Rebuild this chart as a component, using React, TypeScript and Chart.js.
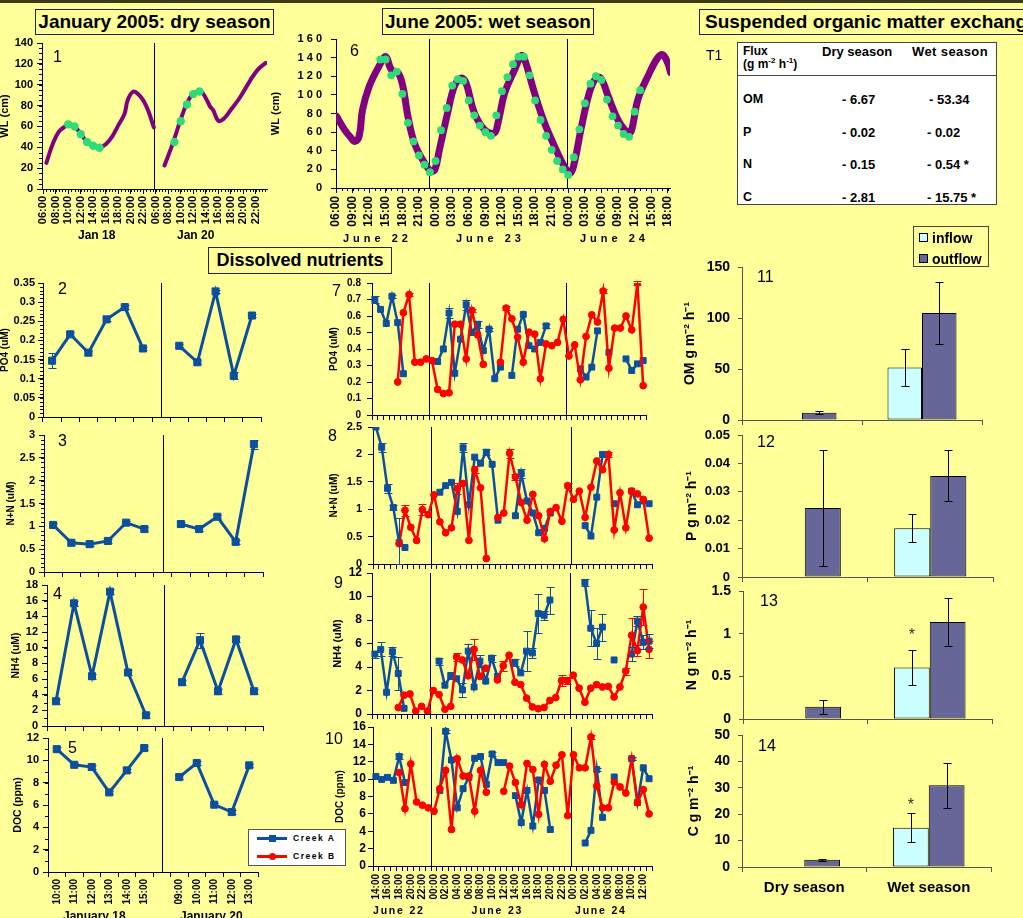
import React, { useEffect, useRef } from 'react';
import { Chart, registerables } from 'chart.js';

Chart.register(...registerables);

const FONT = '"Liberation Sans", Arial, Helvetica, sans-serif';
Chart.defaults.font.family = FONT;
Chart.defaults.color = '#000';

const _ = null;
const BG = '#FFFF99';
const BLUE = '#0B4F9E';
const RED = '#FF0000';
const PURPLE = '#800080';
const GREEN = '#2EDB78';
const INFLOW = '#CCFFFF';
const OUTFLOW = '#666699';

// ---------------- Panel 1: water level, January 2005 (hours of day) ----------------
const wlJan18Time = [6.5, 7.5, 8.5, 9.5, 10, 10.5, 11, 12, 13, 14, 15, 16, 17, 18, 19, 19.5, 20.3, 21, 22, 22.8, 23.7];
const wlJan18 = [25, 43, 55, 60, 62, 61, 60, 53, 45, 41.5, 39.5, 43, 50, 61, 72, 85, 93, 92, 85, 75, 59];
const wlJan20Time = [7.4, 8, 8.8, 9.9, 10.9, 11.9, 13, 13.5, 14.2, 14.7, 15.2, 16, 16.8, 17.9, 19.5, 21.1, 22.4, 23.6];
const wlJan20 = [22.5, 32, 45, 65, 81, 91, 93.5, 92, 85, 79, 75.5, 65.5, 67, 75, 88, 104, 115, 121];
const sampleJan18Time = [10, 11, 12, 13, 14, 15];
const sampleJan18 = [62, 60, 52.5, 45, 41.5, 39.5];
const sampleJan20Time = [9, 10, 11, 12, 13];
const sampleJan20 = [45, 65, 81, 91, 93.5];
const dryWLTickValues = [0, 2, 4, 6, 8, 10, 12, 14, 16, 18, 20, 22, 24, 26, 28, 30, 32, 34];
const dryWLTickLabels = ['06:00', '08:00', '10:00', '12:00', '14:00', '16:00', '18:00', '20:00', '22:00',
  '06:00', '08:00', '10:00', '12:00', '14:00', '16:00', '18:00', '20:00', '22:00'];

// ---------------- Panel 6: water level, June 2005 (hours after June 22 06:00) ----------------
const wlJuneTime = [0.1, 1.5, 2.7, 3.4, 4.2, 4.8, 6.0, 7.8, 9.0, 10.0, 11.2, 12.1, 13.0, 14.2, 16.0, 17.2, 17.9,
  18.7, 20.2, 21.4, 22.6, 23.5, 25.0, 26.8, 28.6, 29.3, 30.5, 32.3, 33.5, 34.0, 35.9, 37.7, 39.5, 41.3, 42.4,
  43.1, 44.3, 45.8, 47.0, 47.9, 49.2, 51.0, 52.8, 53.4, 54.6, 56.4, 58.2, 59.1, 60.0, 60.5];
const wlJune = [77, 63, 54, 50, 56, 84, 109, 131, 141, 127, 124, 109, 77, 48, 27, 18, 20, 41, 81, 109, 118,
  113, 81, 63, 59, 70, 102, 127, 142, 140, 102, 70, 45, 23, 16, 27, 63, 102, 118, 118, 99, 73, 59, 61, 95,
  120, 140, 143, 134, 124];
const sampleJuneTime = [8, 9, 10, 11, 12, 13, 14, 15, 16, 17, 18, 19, 20, 21, 22, 23, 24, 25, 26, 27, 28, 29,
  30, 31, 32, 33, 34, 35, 36, 37, 38, 39, 40, 41, 42, 43, 44, 45, 46, 47, 48, 49, 50, 51, 52, 53, 54, 55];
const sampleJune = [138, 138, 121, 125, 101, 70, 50, 35, 25, 17, 29, 62, 86, 110, 117, 115, 94, 78, 67, 60,
  56, 78, 104, 119, 133, 141, 141, 121, 94, 73, 56, 41, 29, 20, 14, 33, 63, 91, 112, 120, 116, 95, 77, 67,
  58, 55, 82, 105];
const wetWLTickValues = [0, 3, 6, 9, 12, 15, 18, 21, 24, 27, 30, 33, 36, 39, 42, 45, 48, 51, 54, 57, 60];
const wetWLTickLabels = ['06:00', '09:00', '12:00', '15:00', '18:00', '21:00', '00:00', '03:00', '06:00',
  '09:00', '12:00', '15:00', '18:00', '21:00', '00:00', '03:00', '06:00', '09:00', '12:00', '15:00', '18:00'];

// ---------------- Panels 2-5: dissolved nutrients, dry season (Creek A) ----------------
const dryTimes = ['10:00', '11:00', '12:00', '13:00', '14:00', '15:00', '', '09:00', '10:00', '11:00', '12:00', '13:00'];
const dryPO4 = [0.147, 0.216, 0.168, 0.255, 0.287, 0.179, _, 0.186, 0.143, 0.328, 0.108, 0.265];
const dryPO4Err = [0.02, 0.005, 0.005, 0.005, 0.005, 0.005, _, 0.004, 0.005, 0.005, 0.01, 0.005];
const dryNN = [1.03, 0.64, 0.61, 0.68, 1.08, 0.94, _, 1.05, 0.94, 1.21, 0.66, 2.80];
const dryNNErr = [0.04, 0.04, 0.04, 0.04, 0.04, 0.04, _, 0.04, 0.04, 0.04, 0.04, 0.1];
const dryNH4 = [3.16, 15.66, 6.36, 17.15, 6.83, 1.37, _, 5.59, 10.96, 4.44, 11.05, 4.44];
const dryNH4Err = [0.3, 0.3, 0.3, 0.3, 0.3, 0.3, _, 0.3, 0.95, 0.3, 0.3, 0.3];
const dryDOC = [11.0, 9.6, 9.4, 7.13, 9.1, 11.1, _, 8.5, 9.76, 6.03, 5.37, 9.55];
const dryDOCErr = [0.15, 0.15, 0.15, 0.15, 0.15, 0.15, _, 0.15, 0.15, 0.15, 0.15, 0.15];

// ---------------- Panels 7-10: dissolved nutrients, wet season ----------------
const wetHours = ['14:00', '15:00', '16:00', '17:00', '18:00', '19:00', '20:00', '21:00', '22:00', '23:00',
  '00:00', '01:00', '02:00', '03:00', '04:00', '05:00', '06:00', '07:00', '08:00', '09:00', '10:00', '11:00',
  '12:00', '13:00', '14:00', '15:00', '16:00', '17:00', '18:00', '19:00', '20:00', '21:00', '22:00', '23:00',
  '00:00', '01:00', '02:00', '03:00', '04:00', '05:00', '06:00', '07:00', '08:00', '09:00', '10:00', '11:00',
  '12:00', '13:00'];
const wetPO4A = [0.70, 0.64, 0.555, 0.72, 0.56, 0.25, _, _, _, _, _, 0.324, 0.40, 0.618, 0.253, 0.46, 0.668,
  0.50, 0.55, 0.39, 0.52, 0.22, 0.29, _, 0.24, 0.52, 0.61, 0.42, 0.40, 0.44, 0.54, _, _, _, _, _, 0.28, 0.23,
  0.29, 0.51, _, 0.38, _, _, 0.34, 0.27, 0.31, 0.33];
const wetPO4B = [_, _, _, _, 0.20, 0.62, 0.73, 0.32, 0.32, 0.34, 0.33, 0.155, 0.13, 0.135, 0.55, 0.55, 0.34,
  0.634, 0.486, 0.307, _, _, 0.32, 0.648, 0.583, 0.472, 0.32, 0.502, 0.49, 0.219, 0.431, 0.42, 0.44, 0.58,
  0.358, 0.425, 0.213, 0.476, 0.607, 0.563, 0.751, 0.284, 0.527, 0.527, 0.60, 0.516, 0.80, 0.178];
const wetNNA = [2.5, 2.13, 1.38, 1.03, 0.39, 0.30, _, _, _, _, _, 1.31, 1.43, 1.49, 0.96, 2.12, 1.08, 1.95,
  1.84, 2.04, 1.82, 0.80, _, _, 0.88, 1.65, 1.15, 0.93, 0.57, 0.65, 0.93, _, _, _, _, _, 0.70, 0.51, 1.22,
  2.0, _, 1.1, _, _, 1.33, 1.08, 1.15, 1.1];
const wetNNB = [_, _, _, _, 0.37, 0.98, 0.67, 0.43, 0.99, 0.90, 1.26, 0.77, 0.57, 0.66, 1.38, 1.47, 0.43,
  1.72, 1.39, 0.10, _, 0.85, 0.93, 2.02, 1.59, 1.12, 0.80, 1.27, 0.88, 0.46, 0.96, 1.03, 0.78, 1.43, 1.18,
  1.33, 0.85, 1.40, 1.88, 1.72, 2.0, 0.62, 1.30, 0.66, 1.33, 1.28, 1.18, 0.47];
const wetNH4A = [5.1, 5.5, 1.85, 5.3, 3.45, 0.48, _, _, _, _, _, 4.5, 2.45, 3.25, 3.0, 2.05, 5.35, 2.3, 4.5,
  2.8, 4.75, 3.2, _, _, 4.4, 3.5, 5.35, 5.2, 8.55, 8.4, 9.7, _, _, _, _, _, 11.2, 7.3, 6.0, 7.4, _, 4.6, _, _,
  5.1, 7.9, 6.1, 6.2];
const wetNH4B = [_, _, _, _, 0.55, 1.6, 1.7, 0.25, 0.65, 0.25, 2.0, 1.65, 0.4, 0.65, 4.85, 4.6, 3.25, 5.5,
  3.2, 3.9, _, 2.9, 4.1, 5.0, 2.7, 2.5, 1.35, 0.6, 0.45, 0.55, 1.15, 1.4, 2.85, 2.85, 3.3, 2.2, 1.0, 2.2, 2.5,
  2.3, 2.35, 1.45, 2.3, 3.65, 6.7, 5.4, 9.1, 5.5];
const wetDOCA = [10.3, 9.97, 10.2, 9.86, 12.6, 9.6, _, _, _, _, _, 8.7, 15.5, 12.2, 6.7, 8.9, 10.2, 12.4, 12.6,
  9.4, 12.9, 11.9, 11.9, _, 8.1, 5.0, 8.7, 4.6, 9.9, 8.7, 4.2, _, _, _, _, _, 2.65, 4.1, 11.1, 5.6, _, 10.25,
  _, _, 12.35, 7.3, 11.3, 10.05];
const wetDOCB = [_, _, _, _, 10.75, 6.6, 11.75, 7.37, 7.0, 6.7, 6.3, 8.9, 11.0, 4.2, 12.35, 10.36, 10.36, 6.3,
  11.0, 8.5, _, _, 8.6, 11.5, 9.6, 7.06, 11.8, 11.1, 5.95, 11.7, 9.75, 11.6, 12.8, 5.8, 12.8, 11.3, 11.3,
  14.85, 9.2, 6.7, 6.7, 9.67, 9.1, 8.4, 12.35, 7.3, 8.8, 6.0];
// error bars as [index, error] pairs
const wetPO4AErr = [[0, 0.02], [3, 0.01], [13, 0.03], [16, 0.03], [18, 0.02], [20, 0.01], [30, 0.01]];
const wetPO4BErr = [[6, 0.01], [17, 0.01], [23, 0.01], [40, 0.01], [46, 0.01]];
const wetNNAErr = [[1, 0.08], [2, 0.08], [3, 0.05], [4, 0.45], [15, 0.08], [19, 0.05], [25, 0.08], [39, 0.05]];
const wetNNBErr = [[5, 0.1], [8, 0.1], [14, 0.1], [17, 0.06], [23, 0.08], [24, 0.05], [33, 0.05], [40, 0.05]];
const wetNH4AErr = [[0, 0.3], [1, 0.6], [3, 0.4], [4, 1.4], [11, 0.3], [13, 0.3], [15, 0.6], [16, 0.6],
  [18, 0.5], [20, 0.3], [24, 0.3], [26, 1.7], [27, 0.4], [28, 1.65], [29, 0.4], [30, 1.15], [36, 0.3],
  [37, 1.55], [38, 1.3], [39, 1.15], [44, 0.6], [45, 0.4], [46, 0.6], [47, 0.6]];
const wetNH4BErr = [[14, 0.3], [17, 0.9], [22, 0.4], [32, 0.5], [33, 0.3], [43, 0.3], [44, 1.5], [45, 0.5],
  [46, 1.5], [47, 0.7]];
const wetDOCAErr = [[4, 0.3], [12, 0.2], [20, 0.2], [38, 0.2], [44, 0.2]];
const wetDOCBErr = [[37, 0.2], [44, 0.2]];

// ---------------- Panels 11-14: suspended organic matter fluxes ----------------
const seasons = ['Dry season', 'Wet season'];
const omIn = [0, 51.5];
const omOut = [7, 105];
const omInErr = [0, 17.7];
const omOutErr = [1.5, 30.5];
const pIn = [0, 0.0172];
const pOut = [0.0243, 0.0356];
const pInErr = [0, 0.005];
const pOutErr = [0.0205, 0.009];
const nIn = [0, 0.604];
const nOut = [0.143, 1.137];
const nInErr = [0, 0.21];
const nOutErr = [0.085, 0.285];
const cIn = [0, 14.9];
const cOut = [2.7, 31.0];
const cInErr = [0, 5.5];
const cOutErr = [0.4, 8.5];

// ---------------- plugins ----------------
const dividerPlugin = {
  id: 'dividers',
  beforeDatasetsDraw(chart: any, _a: any, o: any) {
    if (!o || !o.values) return;
    const { ctx, chartArea } = chart;
    const xs = chart.scales.x;
    ctx.save();
    ctx.strokeStyle = o.color || '#000';
    ctx.lineWidth = o.width || 1;
    for (const v of o.values) {
      const px = Math.round(xs.getPixelForValue(v)) + 0.5;
      ctx.beginPath();
      ctx.moveTo(px, chartArea.top);
      ctx.lineTo(px, chartArea.bottom + (o.extend || 0));
      ctx.stroke();
    }
    ctx.restore();
  },
};

const errorBarPlugin = {
  id: 'errorBars',
  afterDatasetsDraw(chart: any) {
    const { ctx } = chart;
    const ys = chart.scales.y;
    chart.data.datasets.forEach((ds: any, di: number) => {
      const errs = ds.errors;
      if (!errs) return;
      const meta = chart.getDatasetMeta(di);
      ctx.save();
      ctx.strokeStyle = ds.errorColor || ds.borderColor;
      ctx.lineWidth = ds.errorWidth || 1;
      meta.data.forEach((el: any, i: number) => {
        const e = errs[i];
        const raw = ds.data[i];
        if (e == null || raw == null || !e) return;
        const val = typeof raw === 'object' ? raw.y : raw;
        const x = Math.round(el.x) + 0.5;
        const y1 = Math.round(ys.getPixelForValue(val + e)) + 0.5;
        const y2 = Math.round(ys.getPixelForValue(Math.max(val - e, ys.min))) + 0.5;
        const cw = ds.capWidth || 4;
        ctx.beginPath();
        ctx.moveTo(x, y1); ctx.lineTo(x, y2);
        ctx.moveTo(x - cw, y1); ctx.lineTo(x + cw, y1);
        ctx.moveTo(x - cw, y2); ctx.lineTo(x + cw, y2);
        ctx.stroke();
      });
      ctx.restore();
    });
  },
};

const minorTicksPlugin = {
  id: 'minorTicks',
  afterDraw(chart: any, _a: any, o: any) {
    if (!o) return;
    const { ctx, chartArea: ca } = chart;
    const len = o.len || 3;
    ctx.save();
    ctx.strokeStyle = '#000';
    ctx.lineWidth = 1;
    if (o.yStep) {
      const s = chart.scales.y;
      const n = Math.round((s.max - s.min) / o.yStep);
      for (let k = 0; k <= n; k++) {
        const py = Math.round(s.getPixelForValue(s.min + k * o.yStep)) + 0.5;
        ctx.beginPath(); ctx.moveTo(ca.left - len, py); ctx.lineTo(ca.left, py); ctx.stroke();
      }
    }
    if (o.xStep) {
      const s = chart.scales.x;
      const from = o.xFrom != null ? o.xFrom : s.min;
      const n = Math.floor((s.max - from) / o.xStep + 1e-6);
      for (let k = 0; k <= n; k++) {
        const px = Math.round(s.getPixelForValue(from + k * o.xStep)) + 0.5;
        ctx.beginPath(); ctx.moveTo(px, ca.bottom); ctx.lineTo(px, ca.bottom + len); ctx.stroke();
      }
    }
    ctx.restore();
  },
};

const starPlugin = {
  id: 'stars',
  afterDatasetsDraw(chart: any, _a: any, o: any) {
    if (!o || !o.items) return;
    const { ctx } = chart;
    ctx.save();
    ctx.fillStyle = '#333';
    ctx.font = `16px ${FONT}`;
    ctx.textAlign = 'center';
    ctx.textBaseline = 'middle';
    for (const it of o.items) {
      const ds = chart.data.datasets[it.ds];
      const el = chart.getDatasetMeta(it.ds).data[it.i];
      const top = ds.data[it.i] + ((ds.errors && ds.errors[it.i]) || 0);
      const py = chart.scales.y.getPixelForValue(top) - it.dy;
      ctx.fillText('*', el.x, py);
    }
    ctx.restore();
  },
};

Chart.register(dividerPlugin, errorBarPlugin, minorTicksPlugin, starPlugin);

// ---------------- layout helpers ----------------
type Geo = { left: number; top: number; width: number; height: number; wy: number; pt: number; pr: number; hx: number };

function frame(rect: number[], wy: number, hx: number, pt = 8, pr = 10): Geo {
  const l = Math.round(rect[0]);
  const t = Math.round(rect[1]);
  const r = Math.round(rect[2]);
  const b = Math.round(rect[3]);
  const left = Math.round(rect[0] - wy);
  const top = Math.round(rect[1] - pt);
  return { left, top, width: r - left + pr, height: b - top + hx, wy: l - left, pt: t - top, pr, hx };
}

const fmt = (v: any) => String(parseFloat(Number(v).toFixed(4)));
const spaced = (v: any) => String(v).split('').join(' ');

function base(g: Geo, plugins: any = {}) {
  return {
    responsive: false,
    maintainAspectRatio: false,
    animation: false,
    devicePixelRatio: 1,
    events: [],
    layout: { padding: { top: g.pt, right: g.pr, left: 0, bottom: 0 } },
    plugins: { legend: { display: false }, tooltip: { enabled: false }, ...plugins },
  };
}

function yAxis(g: Geo, o: any) {
  const col = o.color || '#000';
  return {
    type: 'linear',
    position: 'left',
    min: o.min,
    max: o.max,
    afterFit: (s: any) => { s.width = g.wy; s.paddingTop = 0; s.paddingBottom = 0; },
    border: { display: true, color: col, width: 1 },
    grid: { display: true, drawOnChartArea: false, drawTicks: true, tickLength: o.tickLen || 4, color: col, lineWidth: 1 },
    ticks: {
      stepSize: o.step, autoSkip: false, maxTicksLimit: 100, color: '#000', padding: o.pad != null ? o.pad : 3,
      font: { size: o.size, weight: 'bold' }, callback: o.cb || fmt,
    },
    title: { display: true, text: o.title, color: '#000', padding: 0, font: { size: o.titleSize, weight: 'bold' } },
  };
}

function xCat(g: Geo, o: any) {
  const ticks: any = {
    display: !!o.labels, autoSkip: false, maxRotation: o.rot != null ? o.rot : 90, minRotation: o.rot != null ? o.rot : 90,
    padding: o.pad != null ? o.pad : 2, color: '#000', font: { size: o.size || 10, weight: 'bold' },
  };
  if (o.cb) ticks.callback = o.cb;
  const col = o.color || '#000';
  return {
    type: 'category',
    offset: true,
    afterFit: (s: any) => { s.height = g.hx; s.paddingLeft = 0; s.paddingRight = 0; },
    border: { display: true, color: col, width: 1 },
    grid: { display: true, offset: true, drawOnChartArea: false, drawTicks: true, tickLength: o.tickLen || 5, color: col },
    ticks,
  };
}

function xLin(g: Geo, o: any) {
  return {
    type: 'linear',
    min: o.min,
    max: o.max,
    afterBuildTicks: (s: any) => { s.ticks = o.vals.map((v: number) => ({ value: v })); },
    afterFit: (s: any) => { s.height = g.hx; s.paddingLeft = 0; s.paddingRight = 0; },
    border: { display: true, color: '#000', width: 1 },
    grid: { display: true, drawOnChartArea: false, drawTicks: true, tickLength: 5, color: '#000' },
    ticks: {
      autoSkip: false, maxRotation: 90, minRotation: 90, padding: o.pad || 2, color: '#000',
      font: { size: o.size, weight: 'bold' },
      callback: (_v: any, i: number) => o.labels[i],
    },
  };
}

const pairs = (t: number[], v: number[], shift: number) => t.map((x, i) => ({ x: x + shift, y: v[i] }));
const errArr = (p: number[][]) => { const a: any[] = new Array(48).fill(null); p.forEach(([i, e]) => { a[i] = e; }); return a; };

const dots = (data: any[], r: number) => ({
  data, showLine: false, pointRadius: r, pointBackgroundColor: GREEN, pointBorderWidth: 0,
  borderColor: GREEN, backgroundColor: GREEN,
});
const curve = (data: any[], w: number) => ({
  data, pointRadius: 0, borderColor: PURPLE, borderWidth: w, tension: 0.4, fill: false,
  borderCapStyle: 'round', borderJoinStyle: 'round',
});
const creekA = (data: any[], errs: any[], r: number, w: number) => ({
  label: 'Creek A', data, errors: errs, borderColor: BLUE, backgroundColor: BLUE, borderWidth: w,
  pointStyle: 'rect', pointRadius: r, pointBackgroundColor: BLUE, pointBorderColor: BLUE, pointBorderWidth: 1,
  tension: 0, capWidth: 4,
});
const creekB = (data: any[], errs: any[], r: number, w: number) => ({
  label: 'Creek B', data, errors: errs, borderColor: RED, backgroundColor: RED, borderWidth: w,
  pointStyle: 'circle', pointRadius: r, pointBackgroundColor: RED, pointBorderColor: RED, pointBorderWidth: 1,
  tension: 0, capWidth: 4,
});
const bars = (label: string, data: number[], errs: number[], color: string) => ({
  label, data, errors: errs, backgroundColor: color, borderColor: '#000', borderWidth: 1, borderSkipped: false,
  errorColor: '#000', capWidth: 4, categoryPercentage: 0.575, barPercentage: 1.0,
});

// ---------------- panel definitions ----------------
type Panel = { g: Geo; build: () => any };

function wlDryPanel(): Panel {
  const g = frame([42, 43, 267, 189.3], 43.6, 40, 8, 10);
  return {
    g, build: () => ({
      type: 'line',
      data: {
        datasets: [
          dots(pairs(sampleJan18Time, sampleJan18, -6), 4.2),
          dots(pairs(sampleJan20Time, sampleJan20, 12), 4.2),
          curve(pairs(wlJan18Time, wlJan18, -6), 4),
          curve(pairs(wlJan20Time, wlJan20, 12), 4),
        ],
      },
      options: {
        ...base(g, { dividers: { values: [17.7] }, minorTicks: { yStep: 5, xStep: 0.5, xFrom: 0 } }),
        scales: {
          x: xLin(g, { min: -0.2, max: 35.8, vals: dryWLTickValues, labels: dryWLTickLabels, size: 11, pad: 2 }),
          y: yAxis(g, { min: 0, max: 140, step: 20, title: 'WL (cm)', size: 11, titleSize: 11, pad: 4, tickLen: 5 }),
        },
      },
    }),
  };
}

function wlWetPanel(): Panel {
  const g = frame([336, 39.3, 670, 188.3], 66.6, 40, 8, 10);
  return {
    g, build: () => ({
      type: 'line',
      data: {
        datasets: [
          dots(pairs(sampleJuneTime, sampleJune, 0), 3.9),
          curve(pairs(wlJuneTime, wlJune, 0), 7),
        ],
      },
      options: {
        ...base(g, { dividers: { values: [16.8, 41.7] }, minorTicks: { xStep: 1, xFrom: 0 } }),
        scales: {
          x: xLin(g, { min: 0, max: 60.4, vals: wetWLTickValues, labels: wetWLTickLabels, size: 12, pad: 3 }),
          y: yAxis(g, { min: 0, max: 160, step: 20, title: 'WL (cm)', size: 11, titleSize: 11, pad: 9, tickLen: 5, cb: spaced }),
        },
      },
    }),
  };
}

function dryPanel(rect: number[], wy: number, hx: number, data: any[], errs: any[], y: any, labels: boolean, minor: number): Panel {
  const g = frame(rect, wy, hx, 8, 10);
  return {
    g, build: () => ({
      type: 'line',
      data: { labels: dryTimes, datasets: [creekA(data, errs, 5, 3)] },
      options: {
        ...base(g, { dividers: { values: [6] }, minorTicks: { yStep: minor } }),
        scales: {
          x: xCat(g, { labels, size: 10, pad: 2 }),
          y: yAxis(g, { ...y, tickLen: 5 }),
        },
      },
    }),
  };
}

function wetPanel(rect: number[], wy: number, hx: number, a: any[], aErr: number[][], b: any[], bErr: number[][], y: any, labels: boolean): Panel {
  const g = frame(rect, wy, hx, 8, 10);
  return {
    g, build: () => ({
      type: 'line',
      data: { labels: wetHours, datasets: [creekB(b, errArr(bErr), 3.4, 2.5), creekA(a, errArr(aErr), 4.2, 2.5)] },
      options: {
        ...base(g, { dividers: { values: [9.5, 33.5] } }),
        scales: {
          x: xCat(g, { labels, size: 10, pad: 3, cb: (_v: any, i: number) => (i % 2 === 0 ? wetHours[i] : '') }),
          y: yAxis(g, { ...y, tickLen: 5 }),
        },
      },
    }),
  };
}

function barPanel(rect: number[], wy: number, hx: number, inD: number[], outD: number[], inE: number[], outE: number[], y: any, labels: boolean, star: any): Panel {
  const g = frame(rect, wy, hx, 8, 10);
  return {
    g, build: () => ({
      type: 'bar',
      data: { labels: seasons, datasets: [bars('inflow', inD, inE, INFLOW), bars('outflow', outD, outE, OUTFLOW)] },
      options: {
        ...base(g, star ? { stars: { items: [star] } } : {}),
        scales: {
          x: xCat(g, { labels, size: 15, pad: 7, rot: 0, color: '#555' }),
          y: yAxis(g, { ...y, color: '#555', tickLen: 4 }),
        },
      },
    }),
  };
}

const PANELS: Panel[] = [
  wlDryPanel(),
  wlWetPanel(),
  dryPanel([43.3, 283.3, 261, 416.7], 44.3, 8, dryPO4, dryPO4Err,
    { min: 0, max: 0.35, step: 0.05, title: 'PO4 (uM)', size: 11, titleSize: 10, pad: 3 }, false, 0.01),
  dryPanel([44.3, 435, 263, 572.3], 39.3, 8, dryNN, dryNNErr,
    { min: 0, max: 3, step: 0.5, title: 'N+N (uM)', size: 11, titleSize: 10, pad: 4 }, false, 0.1),
  dryPanel([46.7, 585, 263.3, 725.7], 37, 8, dryNH4, dryNH4Err,
    { min: 0, max: 18, step: 2, title: 'NH4 (uM)', size: 11, titleSize: 10.5, pad: 4 }, false, 1),
  dryPanel([48.3, 738.3, 257.7, 872.3], 35.9, 45, dryDOC, dryDOCErr,
    { min: 0, max: 12, step: 2, title: 'DOC (ppm)', size: 11, titleSize: 10.5, pad: 4 }, true, 1),
  wetPanel([371.7, 283.3, 646, 415], 43.7, 8, wetPO4A, wetPO4AErr, wetPO4B, wetPO4BErr,
    { min: 0, max: 0.8, step: 0.1, title: 'PO4 (uM)', size: 10, titleSize: 10, pad: 6 }, false),
  wetPanel([372.7, 427.3, 651.7, 564], 44.7, 8, wetNNA, wetNNAErr, wetNNB, wetNNBErr,
    { min: 0, max: 2.5, step: 0.5, title: 'N+N (uM)', size: 11, titleSize: 10, pad: 6 }, false),
  wetPanel([371.7, 573.3, 651.7, 714], 40.6, 8, wetNH4A, wetNH4AErr, wetNH4B, wetNH4BErr,
    { min: 0, max: 12, step: 2, title: 'NH4 (uM)', size: 12, titleSize: 11, pad: 5 }, false),
  wetPanel([373.3, 726.7, 651.7, 865.7], 39.3, 45, wetDOCA, wetDOCAErr, wetDOCB, wetDOCBErr,
    { min: 0, max: 16, step: 2, title: 'DOC (ppm)', size: 12, titleSize: 10, pad: 2 }, true),
  barPanel([741.7, 267, 982, 420], 60.1, 8, omIn, omOut, omInErr, omOutErr,
    { min: 0, max: 150, step: 50, title: 'OM g m\u207B\u00B2 h\u207B\u00B9', size: 14, titleSize: 14, pad: 8 }, false, null),
  barPanel([741.7, 435, 993, 577], 58.1, 8, pIn, pOut, pInErr, pOutErr,
    { min: 0, max: 0.05, step: 0.01, title: 'P g m\u207B\u00B2 h\u207B\u00B9', size: 13, titleSize: 14, pad: 8 }, false, null),
  barPanel([742.7, 591, 992, 719], 59.1, 8, nIn, nOut, nInErr, nOutErr,
    { min: 0, max: 1.5, step: 0.5, title: 'N g m\u207B\u00B2 h\u207B\u00B9', size: 14, titleSize: 14, pad: 8 }, false,
    { ds: 0, i: 1, dy: 14 }),
  barPanel([741.7, 735, 991, 867], 56.1, 40, cIn, cOut, cInErr, cOutErr,
    { min: 0, max: 50, step: 10, title: 'C g m\u207B\u00B2 h\u207B\u00B9', size: 14, titleSize: 14, pad: 8 }, true,
    { ds: 0, i: 1, dy: 8 }),
];

// ---------------- components ----------------
function PanelCanvas({ p }: { p: Panel }) {
  const ref = useRef<HTMLCanvasElement>(null);
  useEffect(() => {
    if (!ref.current) return;
    const chart = new Chart(ref.current, p.build());
    return () => chart.destroy();
  }, [p]);
  const g = p.g;
  return (
    <canvas ref={ref} width={g.width} height={g.height}
      style={{ position: 'absolute', left: g.left, top: g.top, width: g.width, height: g.height }} />
  );
}

function Txt({ x, y, s, b = true, ls = 0, children, color = '#000' }: any) {
  return (
    <div style={{
      position: 'absolute', left: x, top: y - 0.13 * s, fontSize: s, lineHeight: 1, fontWeight: b ? 700 : 400,
      letterSpacing: ls, whiteSpace: 'nowrap', color, fontFamily: FONT,
    }}>{children}</div>
  );
}

function TitleBox({ l, t, w, h, s, children, align = 'center' }: any) {
  return (
    <div style={{
      position: 'absolute', left: l, top: t, width: w, height: h, boxSizing: 'border-box',
      border: '1.5px solid #222', display: 'flex', alignItems: 'center',
      justifyContent: align === 'center' ? 'center' : 'flex-start', paddingLeft: align === 'center' ? 0 : 5,
      fontSize: s, fontWeight: 700, fontFamily: FONT, whiteSpace: 'nowrap', color: '#000',
    }}>{children}</div>
  );
}

export default function App() {
  return (
    <div style={{ position: 'fixed', left: 0, top: 0, width: 1023, height: 918, overflow: 'hidden', background: BG, fontFamily: FONT }}>
      <div style={{ position: 'absolute', left: 0, top: 0, width: 1023, height: 3, background: '#3A3A14' }} />

      <TitleBox l={35} t={9} w={239} h={26} s={19}>January 2005: dry season</TitleBox>
      <TitleBox l={382} t={8} w={212} h={27} s={19}>June 2005: wet season</TitleBox>
      <TitleBox l={699} t={9} w={340} h={26} s={19} align="left">Suspended organic matter exchange</TitleBox>
      <TitleBox l={208} t={247} w={184} h={27} s={18}>Dissolved nutrients</TitleBox>

      {PANELS.map((p, i) => <PanelCanvas key={i} p={p} />)}

      {/* panel numbers */}
      <Txt x={53} y={51.5} s={16} b={false}>1</Txt>
      <Txt x={350} y={45} s={16} b={false}>6</Txt>
      <Txt x={58} y={283.5} s={16} b={false}>2</Txt>
      <Txt x={58} y={435} s={16} b={false}>3</Txt>
      <Txt x={53} y={588} s={16} b={false}>4</Txt>
      <Txt x={68} y={742} s={16} b={false}>5</Txt>
      <Txt x={332} y={285} s={16} b={false}>7</Txt>
      <Txt x={328} y={430} s={16} b={false}>8</Txt>
      <Txt x={334} y={577} s={16} b={false}>9</Txt>
      <Txt x={325} y={733} s={16} b={false}>10</Txt>
      <Txt x={757} y={271} s={16} b={false}>11</Txt>
      <Txt x={757} y={436.5} s={16} b={false}>12</Txt>
      <Txt x={760} y={595} s={16} b={false}>13</Txt>
      <Txt x={758} y={740} s={16} b={false}>14</Txt>

      {/* day labels */}
      <Txt x={78} y={230.5} s={12}>Jan 18</Txt>
      <Txt x={177} y={231} s={12}>Jan 20</Txt>
      <Txt x={343} y={234} s={11} ls={4}>June 22</Txt>
      <Txt x={456} y={234} s={11} ls={4}>June 23</Txt>
      <Txt x={580} y={234} s={11} ls={4}>June 24</Txt>
      <Txt x={373} y={906.5} s={10.5} ls={1.8}>June 22</Txt>
      <Txt x={471.5} y={906.5} s={10.5} ls={1.8}>June 23</Txt>
      <Txt x={575} y={906} s={10.5} ls={1.8}>June 24</Txt>
      <Txt x={63} y={912} s={12}>January 18</Txt>
      <Txt x={180} y={912} s={12}>January 20</Txt>

      {/* Creek legend */}
      <div style={{ position: 'absolute', left: 248, top: 829, width: 98, height: 37, boxSizing: 'border-box', background: '#fff', border: '1px solid #555' }} />
      <div style={{ position: 'absolute', left: 257, top: 837, width: 30, height: 3, background: BLUE }} />
      <div style={{ position: 'absolute', left: 268.5, top: 835, width: 7, height: 7, background: BLUE }} />
      <div style={{ position: 'absolute', left: 257, top: 855, width: 30, height: 3, background: RED }} />
      <div style={{ position: 'absolute', left: 268.5, top: 853, width: 7, height: 7, borderRadius: 4, background: RED }} />
      <Txt x={293} y={835} s={8.5} ls={1.5}>Creek A</Txt>
      <Txt x={293} y={853} s={8.5} ls={1.5}>Creek B</Txt>

      {/* inflow / outflow legend */}
      <div style={{ position: 'absolute', left: 913, top: 226, width: 76, height: 41, boxSizing: 'border-box', border: '1.5px solid #444' }} />
      <div style={{ position: 'absolute', left: 919, top: 233, width: 9, height: 9, boxSizing: 'border-box', background: INFLOW, border: '1px solid #000' }} />
      <div style={{ position: 'absolute', left: 919, top: 254, width: 9, height: 9, boxSizing: 'border-box', background: OUTFLOW, border: '1px solid #000' }} />
      <Txt x={932} y={232.5} s={14}>inflow</Txt>
      <Txt x={932} y={253.5} s={14}>outflow</Txt>

      {/* Table T1 */}
      <Txt x={706} y={49.5} s={14} b={false}>T1</Txt>
      <div style={{ position: 'absolute', left: 737, top: 42, width: 260, height: 163, boxSizing: 'border-box', background: '#fff', border: '1.5px solid #444' }} />
      <div style={{ position: 'absolute', left: 738, top: 75, width: 258, height: 1, background: '#444' }} />
      <Txt x={743} y={46.5} s={12}>Flux</Txt>
      <Txt x={743} y={59} s={12}>(g m<sup style={{ fontSize: 8 }}>-2</sup> h<sup style={{ fontSize: 8 }}>-1</sup>)</Txt>
      <Txt x={822} y={46.5} s={13}>Dry season</Txt>
      <Txt x={912} y={46.5} s={13} ls={0.4}>Wet season</Txt>
      <Txt x={743} y={95} s={12.5}>OM</Txt>
      <Txt x={743} y={127.5} s={12.5}>P</Txt>
      <Txt x={743} y={160} s={12.5}>N</Txt>
      <Txt x={743} y={192.5} s={12.5}>C</Txt>
      <Txt x={842} y={95} s={13}>- 6.67</Txt>
      <Txt x={842} y={127.5} s={13}>- 0.02</Txt>
      <Txt x={842} y={160} s={13}>- 0.15</Txt>
      <Txt x={842} y={192.5} s={13}>- 2.81</Txt>
      <Txt x={929} y={95} s={13}>- 53.34</Txt>
      <Txt x={927} y={127.5} s={13}>- 0.02</Txt>
      <Txt x={927} y={160} s={13}>- 0.54 *</Txt>
      <Txt x={927} y={192.5} s={13}>- 15.75 *</Txt>
    </div>
  );
}
